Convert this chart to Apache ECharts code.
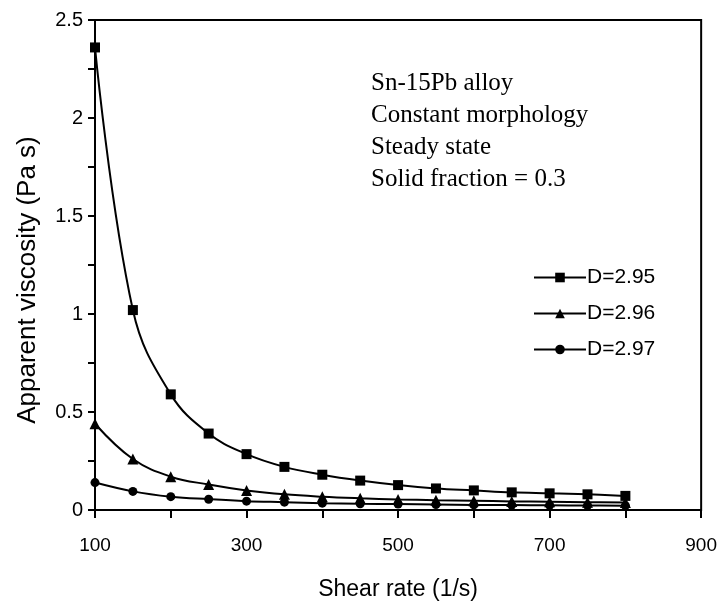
<!DOCTYPE html>
<html>
<head>
<meta charset="utf-8">
<script src="https://cdn.jsdelivr.net/npm/echarts@6/dist/echarts.min.js"></script>
<style>
  html, body { margin: 0; padding: 0; background: #fff; }
  #chart { width: 720px; height: 606px; }
</style>
</head>
<body>
<div id="chart"></div>
<script>
// shear rate (1/s) and apparent viscosity (Pa s)
const shearRate = [100, 150, 200, 250, 300, 350, 400, 450, 500, 550, 600, 650, 700, 750, 800];
const viscD295 = [2.36, 1.02, 0.59, 0.39, 0.285, 0.22, 0.18, 0.15, 0.127, 0.11, 0.10, 0.09, 0.085, 0.08, 0.072];
const viscD296 = [0.44, 0.26, 0.17, 0.13, 0.10, 0.08, 0.068, 0.06, 0.054, 0.05, 0.047, 0.044, 0.042, 0.04, 0.038];
const viscD297 = [0.14, 0.095, 0.068, 0.055, 0.045, 0.04, 0.035, 0.032, 0.03, 0.028, 0.026, 0.025, 0.024, 0.023, 0.022];
const seriesNames = ['D=2.95', 'D=2.96', 'D=2.97'];
const noteLines = ['Sn-15Pb alloy', 'Constant morphology', 'Steady state', 'Solid fraction = 0.3'];

const chart = echarts.init(document.getElementById('chart'));
const sans = '"Liberation Sans", Arial, sans-serif';
const serif = '"Liberation Serif", "Times New Roman", serif';

function makeSeries(name, values, symbol, size) {
  return {
    name: name,
    type: 'line',
    smooth: 0.4,
    symbol: symbol,
    symbolSize: size,
    showAllSymbol: true,
    data: shearRate.map((x, i) => [x, values[i]]),
    lineStyle: { color: '#000', width: 2 },
    itemStyle: { color: '#000' }
  };
}

chart.setOption({
  animation: false,
  grid: {
    left: 95, right: 17, top: 20, bottom: 89,
    show: true, borderColor: '#000', borderWidth: 2
  },
  title: {
    text: noteLines.join('\n'),
    left: 366, top: 62,
    textStyle: { fontFamily: serif, fontSize: 25, fontWeight: 'normal', color: '#000', lineHeight: 32 }
  },
  legend: {
    orient: 'vertical',
    left: 528, top: 262,
    itemWidth: 52, itemHeight: 12, itemGap: 15,
    data: seriesNames,
    textStyle: { fontFamily: sans, fontSize: 21, color: '#000', padding: [0, 0, 0, -4] }
  },
  xAxis: {
    type: 'value',
    min: 100, max: 900, interval: 100,
    name: 'Shear rate (1/s)',
    nameLocation: 'middle',
    nameGap: 68,
    nameTextStyle: { fontFamily: sans, fontSize: 23, color: '#000' },
    axisLine: { lineStyle: { color: '#000', width: 2 } },
    axisTick: { length: 8, lineStyle: { color: '#000', width: 2 } },
    axisLabel: {
      margin: 26,
      fontFamily: sans, fontSize: 19, color: '#000',
      formatter: v => ((v - 100) % 200 === 0 ? String(v) : '')
    },
    splitLine: { show: false }
  },
  yAxis: {
    type: 'value',
    min: 0, max: 2.5, interval: 0.25,
    name: 'Apparent viscosity (Pa s)',
    nameLocation: 'middle',
    nameGap: 54,
    nameTextStyle: { fontFamily: sans, fontSize: 26, color: '#000', padding: [0, 30, 0, 0] },
    axisLine: { lineStyle: { color: '#000', width: 2 } },
    axisTick: { length: 7, lineStyle: { color: '#000', width: 2 } },
    axisLabel: {
      margin: 12,
      fontFamily: sans, fontSize: 20, color: '#000',
      formatter: v => (Math.round(v * 100) % 50 === 0 ? String(+v.toFixed(2)) : '')
    },
    splitLine: { show: false }
  },
  series: [
    makeSeries(seriesNames[0], viscD295, 'rect', 10),
    makeSeries(seriesNames[1], viscD296, 'triangle', 11),
    makeSeries(seriesNames[2], viscD297, 'circle', 9)
  ]
});
</script>
</body>
</html>
